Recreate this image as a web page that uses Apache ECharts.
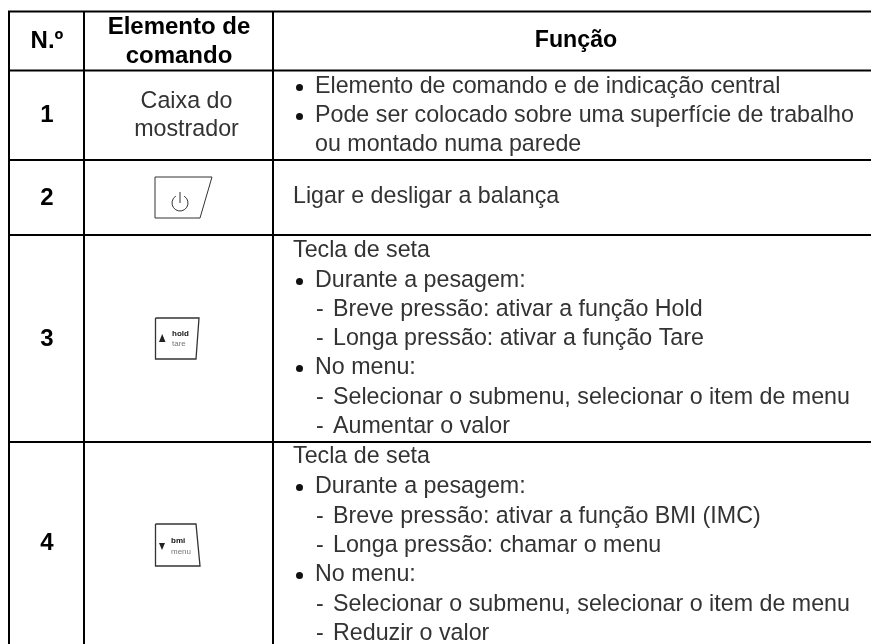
<!DOCTYPE html>
<html><head><meta charset="utf-8">
<style>html,body{margin:0;padding:0;background:#fff}#c{width:871px;height:644px}</style>
<script src="https://cdn.jsdelivr.net/npm/echarts@6/dist/echarts.min.js"></script>
</head><body><div id="c"></div>
<script>
const FONT='"Liberation Sans", Arial, sans-serif';
const columnEdges=[9,84,273,871];
const rowEdges=[11.5,70.5,160,235,442,644];
const headers=[["N.º"],["Elemento de","comando"],["Função"]];
const numbers=["1","2","3","4"];
const elementText=["Caixa do","mostrador"];
const functionRows=[
 [[1,"Elemento de comando e de indicação central",87],[1,"Pode ser colocado sobre uma superfície de trabalho",116],[0.5,"ou montado numa parede",145]],
 [[0,"Ligar e desligar a balança",197]],
 [[0,"Tecla de seta",251],[1,"Durante a pesagem:",281],[2,"Breve pressão: ativar a função Hold",310],[2,"Longa pressão: ativar a função Tare",339],[1,"No menu:",368],[2,"Selecionar o submenu, selecionar o item de menu",398],[2,"Aumentar o valor",427]],
 [[0,"Tecla de seta",457],[1,"Durante a pesagem:",487],[2,"Breve pressão: ativar a função BMI (IMC)",517],[2,"Longa pressão: chamar o menu",546],[1,"No menu:",575],[2,"Selecionar o submenu, selecionar o item de menu",605],[2,"Reduzir o valor",634]]
];
const textColor='#333';
function txt(x,y,s,o){return Object.assign({type:'text',x:x,y:y,style:Object.assign({text:s,font:'23.25px '+FONT,fill:textColor,textAlign:'left',textVerticalAlign:'middle'},o||{}),silent:true});}
function render(p,api){
 const kids=[];
 const L=columnEdges[0],R=columnEdges[3],T=rowEdges[0],B=rowEdges[5];
 rowEdges.slice(0,5).forEach(y=>kids.push({type:'line',shape:{x1:L-1,y1:y,x2:R,y2:y},style:{stroke:'#000',lineWidth:2}}));
 columnEdges.slice(0,3).forEach(x=>kids.push({type:'line',shape:{x1:x,y1:T,x2:x,y2:B},style:{stroke:'#000',lineWidth:2}}));
 const bold='bold 24px '+FONT;
 kids.push(txt(47,41,headers[0][0],{font:bold,fill:'#000',textAlign:'center'}));
 kids.push(txt(179,27,headers[1][0],{font:bold,fill:'#000',textAlign:'center'}));
 kids.push(txt(179,56,headers[1][1],{font:bold,fill:'#000',textAlign:'center'}));
 kids.push(txt(576,41,headers[2][0],{font:'bold 23.2px '+FONT,fill:'#000',textAlign:'center'}));
 [115,198,339,543].forEach((y,i)=>kids.push(txt(47,y,numbers[i],{font:bold,fill:'#000',textAlign:'center'})));
 kids.push(txt(186.5,101.5,elementText[0],{textAlign:'center'}));
 kids.push(txt(186.5,130,elementText[1],{textAlign:'center'}));
 functionRows.flat().forEach(r=>{
  const lvl=r[0],s=r[1],y=r[2];
  if(lvl===1){kids.push({type:'circle',shape:{cx:299.5,cy:y+0.5,r:3.5},style:{fill:'#111'}});kids.push(txt(315,y,s));}
  else if(lvl===2){kids.push(txt(316,y,'-'));kids.push(txt(333,y,s));}
  else if(lvl===0.5){kids.push(txt(315,y,s));}
  else kids.push(txt(293,y,s));
 });
 const kst={stroke:'#333',lineWidth:1,fill:'none'};
 kids.push({type:'polyline',shape:{points:[[155,177],[212,177],[200,218],[155,218],[155,177]]},style:kst});
 kids.push({type:'arc',shape:{cx:180,cy:203,r:8,startAngle:-Math.PI/2+0.55,endAngle:-Math.PI/2-0.55},style:{stroke:'#333',lineWidth:1,fill:'none'}});
 kids.push({type:'line',shape:{x1:180,y1:192,x2:180,y2:203},style:{stroke:'#333',lineWidth:1}});
 kids.push({type:'polyline',shape:{points:[[155.5,318],[199,318],[196,359],[155.5,359],[155.5,318]]},style:Object.assign({},kst,{lineWidth:1.3})});
 kids.push({type:'polygon',shape:{points:[[159,342],[162.2,334],[165.5,342]]},style:{fill:'#222'}});
 kids.push(txt(172,334,'hold',{font:'bold 8px '+FONT,fill:'#111'}));
 kids.push(txt(172,344,'tare',{font:'8px '+FONT,fill:'#777'}));
 kids.push({type:'polyline',shape:{points:[[155.5,524],[196,524],[200,566],[155.5,566],[155.5,524]]},style:Object.assign({},kst,{lineWidth:1.3})});
 kids.push({type:'polygon',shape:{points:[[159,543],[162,550],[165,543]]},style:{fill:'#222'}});
 kids.push(txt(171,541,'bmi',{font:'bold 8px '+FONT,fill:'#111'}));
 kids.push(txt(171,552,'menu',{font:'8px '+FONT,fill:'#777'}));
 return {type:'group',children:kids};
}
const chart=echarts.init(document.getElementById('c'),null,{renderer:'canvas'});
chart.setOption({animation:false,backgroundColor:'#fff',
 grid:{left:0,right:0,top:0,bottom:0},
 xAxis:{type:'value',min:0,max:871,show:false},
 yAxis:{type:'value',min:0,max:644,inverse:true,show:false},
 series:[{type:'custom',coordinateSystem:'cartesian2d',data:[[0,0]],renderItem:render,silent:true}]
});
</script></body></html>
